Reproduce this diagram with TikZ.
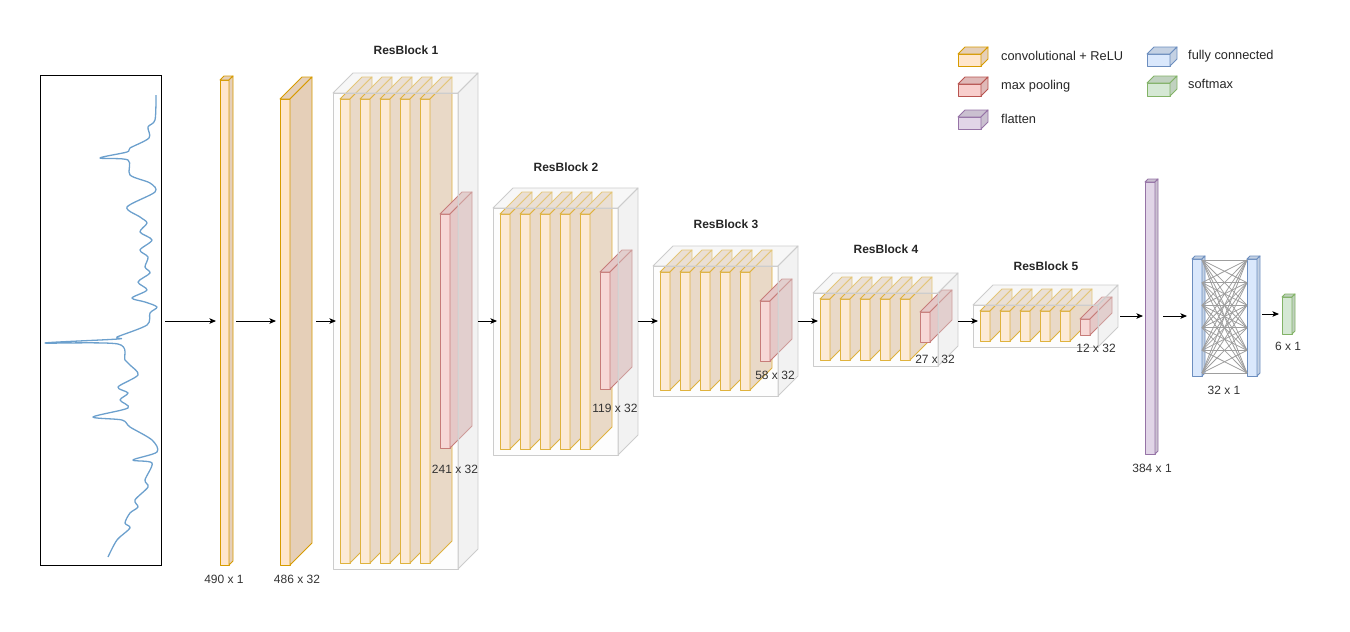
\documentclass[tikz,border=0pt]{standalone}
\usepackage{fontspec}
\setmainfont{Liberation Sans}
\usetikzlibrary{arrows.meta, calc}

\definecolor{convF}{HTML}{FFE6CC}\definecolor{convD}{HTML}{D79B00}
\definecolor{poolF}{HTML}{F8CECC}\definecolor{poolD}{HTML}{B85450}
\definecolor{flatF}{HTML}{E1D5E7}\definecolor{flatD}{HTML}{9673A6}
\definecolor{fcF}{HTML}{DAE8FC}\definecolor{fcD}{HTML}{6C8EBF}
\definecolor{smF}{HTML}{D5E8D4}\definecolor{smD}{HTML}{82B366}
\definecolor{sigblue}{RGB}{108,160,205}

\tikzset{
  face/.style={inner sep=0pt, outer sep=0pt, line width=0.9pt, line join=round},
  blockfront/.style={fill=black!3, fill opacity=0.25, draw=black!20},
  blocktop/.style={fill=black!6, fill opacity=0.5, draw=black!20},
  blockside/.style={fill=black!10, fill opacity=0.5, draw=black!20},
  inbox/.style={draw=black, line width=0.9pt, inner sep=0pt, outer sep=0pt},
  signal/.style={draw=sigblue, line width=1.3pt, line join=round},
  arr/.style={-{Stealth[length=6.5pt,width=5.5pt,inset=1.5pt]}, line width=0.9pt, black},
  fcline/.style={draw=black!38, line width=0.8pt},
  dim/.style={font=\fontsize{12}{14}\selectfont, text=black!80, inner sep=0pt},
  blocktitle/.style={font=\bfseries\fontsize{12}{14}\selectfont, text=black!85, inner sep=0pt},
  legtext/.style={font=\fontsize{12.8}{15}\selectfont, text=black!85, anchor=west, inner sep=0pt}
}

% cube: name, x, y (front top left), width, height, depth, colour prefix
\newcommand{\cube}[7]{%
  \node[face, fill=#7F, draw=#7D, minimum width={(#4)*1pt}, minimum height={(#5)*1pt}, anchor=north west] (#1) at ({#2},{#3}) {};
  \filldraw[face, fill=#7F!90!black, draw=#7D] (#1.north west) -- ++(#6,-#6) -- ++({#4},0) -- ++(-#6,#6) -- cycle;
  \filldraw[face, fill=#7F!90!black, draw=#7D] (#1.north east) -- ++(#6,-#6) -- ++(0,{#5}) -- ++(-#6,#6) -- cycle;
  \path (#1.east) ++(#6,0) coordinate (#1-b);
}

% residual block: name, x, y, height, pool y, pool height
\newcommand{\resblock}[6]{%
  \foreach \k in {1,...,5}{\cube{#1s\k}{#2+7+20*(\k-1)}{#3+6}{10}{#4-12}{22}{conv}}
  \cube{#1p}{#2+107}{#5}{10}{#6}{22}{pool}
  \node[face, blockfront, minimum width=125pt, minimum height={(#4)*1pt}, anchor=north west] (#1) at ({#2},{#3}) {};
  \filldraw[face, blocktop] (#1.north west) -- ++(20,-20) -- ++(125,0) -- ++(-20,20) -- cycle;
  \filldraw[face, blockside] (#1.north east) -- ++(20,-20) -- ++(0,{#4}) -- ++(-20,20) -- cycle;
  \path (#1.east) ++(20,0) coordinate (#1-b);
}

\begin{document}
\begin{tikzpicture}[x=1pt, y=-1pt]
\useasboundingbox (0,0) rectangle (1350,632);

% input signal
\node[inbox, minimum width=121pt, minimum height=490pt, anchor=north west] (inp) at (40,75) {};
\draw[signal] plot[smooth, tension=0.5] coordinates {
  (156,95) (155,120) (148,127) (149,138) (130,148) (127,152) (100,158) (128,160)
  (130,175) (150,183) (155,192) (127,207) (140,217) (147,223) (140,232) (152,240)
  (140,250) (148,257) (145,267) (150,273) (138,282) (147,290) (132,298) (145,302)
  (157,307) (150,313) (147,325) (117,337) (118,339) (45,343) (118,344) (125,360)
  (130,365) (138,375) (118,387) (128,393) (120,400) (128,408) (93,417) (122,420)
  (130,427) (152,440) (157,452) (133,460) (152,463) (145,480) (148,487) (135,500)
  (138,507) (130,513) (125,523) (130,528) (117,540) (108,557)};

% first layers
\cube{l1}{220}{80}{9}{485}{4}{conv}
\cube{l2}{280}{99}{10}{466}{22}{conv}

% residual blocks
\resblock{rb1}{333}{93}{476}{214}{234}
\resblock{rb2}{493}{208}{247}{272}{117}
\resblock{rb3}{653}{266}{130}{301}{60}
\resblock{rb4}{813}{293}{73}{312}{30}
\resblock{rb5}{973}{305}{42}{319}{16}

% dense part
\cube{flat}{1145}{182}{10}{272}{3}{flat}
\cube{fc1}{1192}{259}{10}{117}{3}{fc}
\cube{fc2}{1247}{259}{10}{117}{3}{fc}
\foreach \a in {0,...,5}{\foreach \b in {0,...,5}{
  \draw[fcline] ($(fc1.north east)+(0,{1+22.6*\a})$) -- ($(fc2.north west)+(0,{1+22.6*\b})$);}}
\cube{sm}{1282}{297}{10}{37}{3}{sm}

% arrows
\coordinate (ax) at (0,321);
\coordinate (bx) at (0,316);
\coordinate (cx) at (0,314);
\draw[arr, shorten <=4pt, shorten >=4pt] (inp.east |- ax) -- (l1.west |- ax);
\draw[arr, shorten <=3pt, shorten >=4pt] (l1-b |- ax) -- (l2.west |- ax);
\draw[arr, shorten <=4pt, shorten >=4pt] (l2-b |- ax) -- (rb1s1.west |- ax);
\draw[arr, shorten >=3pt] (rb1-b |- ax) -- (rb2s1.west |- ax);
\draw[arr, shorten >=2pt] (rb2-b |- ax) -- (rb3s1.west |- ax);
\draw[arr, shorten >=2pt] (rb3-b |- ax) -- (rb4s1.west |- ax);
\draw[arr, shorten >=2pt] (rb4-b |- ax) -- (rb5s1.west |- ax);
\draw[arr, shorten <=2pt, shorten >=2pt] (rb5-b |- bx) -- (flat.west |- bx);
\draw[arr, shorten <=5pt, shorten >=5pt] (flat-b |- bx) -- (fc1.west |- bx);
\draw[arr, shorten <=2pt, shorten >=3pt] (fc2-b |- cx) -- (sm.west |- cx);

% titles and sizes
\node[blocktitle] (rb1t) at (406,50) {ResBlock 1};
\node[blocktitle] (rb2t) at (566,167) {ResBlock 2};
\node[blocktitle] (rb3t) at (726,224) {ResBlock 3};
\node[blocktitle] (rb4t) at (886,249) {ResBlock 4};
\node[blocktitle] (rb5t) at (1046,266) {ResBlock 5};
\node[dim] (l1d) at (224,579) {490 x 1};
\node[dim] (l2d) at (297,579) {486 x 32};
\node[dim] (rb1d) at (455,469) {241 x 32};
\node[dim] (rb2d) at (615,408) {119 x 32};
\node[dim] (rb3d) at (775,375) {58 x 32};
\node[dim] (rb4d) at (935,359) {27 x 32};
\node[dim] (rb5d) at (1096,348) {12 x 32};
\node[dim] (flatd) at (1152,468) {384 x 1};
\node[dim] (fcd) at (1224,390) {32 x 1};
\node[dim] (smd) at (1288,346) {6 x 1};

% legend
\cube{kconv}{958}{54}{23}{12}{7}{conv}
\cube{kpool}{958}{84}{23}{12}{7}{pool}
\cube{kflat}{958}{117}{23}{12}{7}{flat}
\cube{kfc}{1147}{54}{23}{12}{7}{fc}
\cube{ksm}{1147}{83}{23}{13}{7}{sm}
\node[legtext] (kconvt) at (1001,56) {convolutional + ReLU};
\node[legtext] (kpoolt) at (1001,86) {max pooling};
\node[legtext] (kflatt) at (1001,119) {flatten};
\node[legtext] (kfct) at (1188,56) {fully connected};
\node[legtext] (ksmt) at (1188,84) {softmax};
\end{tikzpicture}
\end{document}
